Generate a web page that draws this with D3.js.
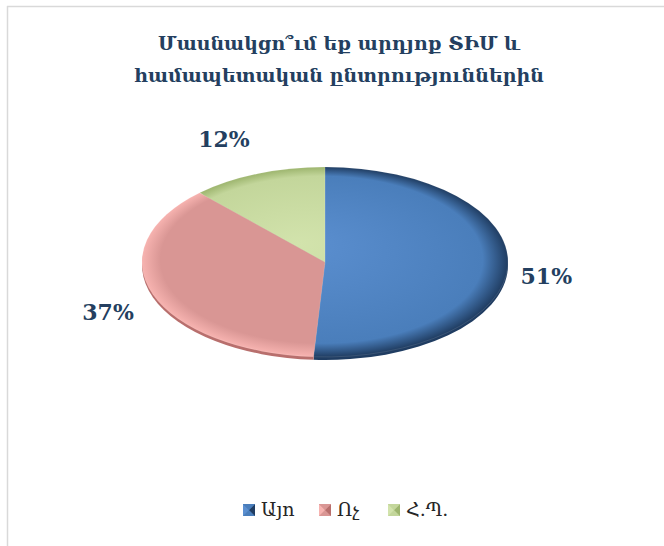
<!DOCTYPE html>
<html>
<head>
<meta charset="utf-8">
<script src="https://cdn.jsdelivr.net/npm/d3@7"></script>
<style>
  body { margin: 0; background: #fff; }
  svg { display: block; }
</style>
</head>
<body>
<svg id="chart" width="664" height="546"></svg>
<script>
// chart data
const titleLines = ["Մասնակցո՞ւմ եք արդյոք ՏԻՄ և", "համապետական ընտրություններին"];
const categories = ["Այո", "Ոչ", "Հ.Պ."];
const values = [51, 37, 12];

const NAVY = '#243f60';
const BASE  = ['#4a7ebb', '#d99694', '#c3d69b'];
const LIGHT = ['#5b8fd0', '#f7b3b0', '#d2e3ac'];
const DARK  = ['#203d62', '#b86f6d', '#9db56e'];

const width = 664, height = 546;
const cx = 325, cy = 262, rx = 183, ry = 95;
const depth = 3;

const svg = d3.select("#chart");
const defs = svg.append("defs");

// frame (only top and left edges show)
svg.append("line").attr("x1", 7).attr("y1", 6.5).attr("x2", width).attr("y2", 6.5)
    .attr("stroke", "#d9d9d9").attr("stroke-width", 1.5);
svg.append("line").attr("x1", 7.5).attr("y1", 6).attr("x2", 7.5).attr("y2", height)
    .attr("stroke", "#d9d9d9").attr("stroke-width", 1.5);

// title
svg.append("g").selectAll("text")
    .data(titleLines)
    .join("text")
    .attr("x", 339)
    .attr("y", (d, i) => 50 + i * 32)
    .attr("text-anchor", "middle")
    .style("font-family", "'DejaVu Serif', 'Liberation Serif', serif")
    .style("font-weight", "bold")
    .style("font-size", "19px")
    .style("fill", NAVY)
    .text(d => d);

const pie = d3.pie().sort(null).startAngle(0).endAngle(2 * Math.PI);
const arcs = pie(values);
const arc = d3.arc().innerRadius(0).outerRadius(rx);

// gradients per slice
BASE.forEach((c, i) => {
    const g = defs.append("radialGradient")
        .attr("id", "grad" + i)
        .attr("gradientUnits", "userSpaceOnUse")
        .attr("cx", 0).attr("cy", 0).attr("r", rx)
        .attr("fx", -rx * 0.15).attr("fy", -rx * 0.2);
    g.append("stop").attr("offset", "0%").attr("stop-color", i == 1 ? c : LIGHT[i]);
    g.append("stop").attr("offset", "88%").attr("stop-color", c);
    g.append("stop").attr("offset", "100%").attr("stop-color", i == 1 ? LIGHT[i] : DARK[i]);
});

// side (thickness) of the 3D pie
const pieSide = svg.append("g")
    .attr("transform", `translate(${cx},${cy + depth}) scale(1,${ry / rx})`);
pieSide.selectAll("path")
    .data(arcs)
    .join("path")
    .attr("d", arc)
    .attr("fill", (d, i) => DARK[i]);

// top face
const pieTop = svg.append("g")
    .attr("transform", `translate(${cx},${cy}) scale(1,${ry / rx})`);
pieTop.selectAll("path")
    .data(arcs)
    .join("path")
    .attr("d", arc)
    .attr("fill", (d, i) => `url(#grad${i})`)
    .attr("stroke", "rgba(255,255,255,0.25)")
    .attr("stroke-width", 0.6);

// percentage labels
const labelR = [1.21, 1.26, 1.5];
svg.append("g").selectAll("text")
    .data(arcs)
    .join("text")
    .attr("x", (d, i) => cx + Math.sin((d.startAngle + d.endAngle) / 2) * rx * labelR[i])
    .attr("y", (d, i) => cy - Math.cos((d.startAngle + d.endAngle) / 2) * ry * labelR[i] + 10)
    .attr("dy", "0.36em")
    .attr("text-anchor", "middle")
    .style("font-family", "'DejaVu Serif', 'Liberation Serif', serif")
    .style("font-weight", "bold")
    .style("font-size", "22px")
    .style("fill", NAVY)
    .text(d => d.data + "%");

// legend
const legendX = [243, 319, 388];
const legend = svg.append("g").selectAll("g")
    .data(categories)
    .join("g")
    .attr("transform", (d, i) => `translate(${legendX[i]},504)`);

legend.append("rect")
    .attr("width", 12).attr("height", 12)
    .attr("fill", (d, i) => BASE[i]);
legend.append("path")
    .attr("d", "M0,0 L6,6 L0,12 Z")
    .attr("fill", (d, i) => LIGHT[i]);
legend.append("path")
    .attr("d", "M12,0 L6,6 L12,12 Z")
    .attr("fill", (d, i) => DARK[i]);
legend.append("path")
    .attr("d", "M0,0 L12,0 L6,6 Z")
    .attr("fill", (d, i) => BASE[i]);

legend.append("text")
    .attr("x", 18)
    .attr("y", 12)
    .style("font-family", "'DejaVu Serif', 'Liberation Serif', serif")
    .style("font-size", "19px")
    .style("fill", "#262626")
    .text(d => d);
</script>
</body>
</html>
